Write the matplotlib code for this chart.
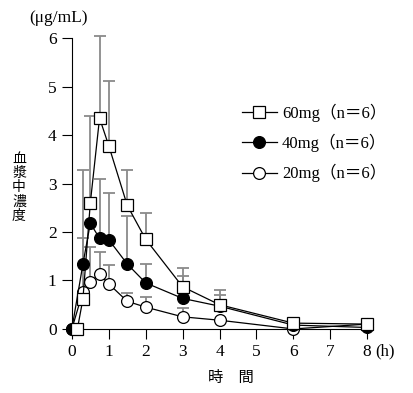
import matplotlib.pyplot as plt

# time (h) and mean concentration (ug/mL), upper SD
t_60 = [0.15, 0.3, 0.5, 0.75, 1.0, 1.5, 2.0, 3.0, 4.0, 6.0, 8.0]
c_60 = [0.0, 0.62, 2.60, 4.35, 3.78, 2.55, 1.85, 0.87, 0.50, 0.12, 0.10]
sd_60 = [0.0, 0.0, 1.80, 1.70, 1.34, 0.73, 0.55, 0.39, 0.30, 0.0, 0.0]

t_40 = [0.0, 0.3, 0.5, 0.75, 1.0, 1.5, 2.0, 3.0, 4.0, 6.0, 8.0]
c_40 = [0.0, 1.34, 2.18, 1.87, 1.84, 1.34, 0.95, 0.63, 0.47, 0.08, 0.03]
sd_40 = [0.0, 1.93, 0.0, 1.22, 0.97, 0.99, 0.39, 0.47, 0.23, 0.0, 0.0]

t_20 = [0.0, 0.3, 0.5, 0.75, 1.0, 1.5, 2.0, 3.0, 4.0, 6.0, 8.0]
c_20 = [0.0, 0.77, 0.97, 1.13, 0.93, 0.57, 0.45, 0.25, 0.18, 0.0, 0.10]
sd_20 = [0.0, 1.11, 0.73, 0.46, 0.39, 0.17, 0.20, 0.19, 0.0, 0.0, 0.0]

labels = ['60mg（n＝6）', '40mg（n＝6）', '20mg（n＝6）']
xticks = [0, 1, 2, 3, 4, 5, 6, 7, 8]
yticks = [0, 1, 2, 3, 4, 5, 6]
ylabel_chars = ['血', '漿', '中', '濃', '度']

plt.rcParams['font.family'] = ['Liberation Serif', 'Noto Sans CJK JP']

fig = plt.figure(figsize=(4.13, 3.93), dpi=100)
ax = fig.add_axes([0.174, 0.163, 0.715, 0.74])

# error bars (upper only, grey)
for t, c, sd in [(t_20, c_20, sd_20), (t_40, c_40, sd_40), (t_60, c_60, sd_60)]:
    lower = [0] * len(sd)
    ax.errorbar(t, c, yerr=[lower, sd], fmt='none', ecolor='#8a8a8a',
                elinewidth=1.3, capsize=4, capthick=1.3, zorder=1, clip_on=False)

l20, = ax.plot(t_20, c_20, '-o', color='black', lw=0.9, ms=8.5, mfc='white',
               mec='black', mew=0.9, zorder=3, clip_on=False)
l40, = ax.plot(t_40, c_40, '-o', color='black', lw=0.9, ms=8.5, mfc='black',
               mec='black', mew=0.9, zorder=4, clip_on=False)
l60, = ax.plot(t_60, c_60, '-s', color='black', lw=0.9, ms=8, mfc='white',
               mec='black', mew=0.9, zorder=5, clip_on=False)

ax.set_xlim(0, 8)
ax.set_ylim(0, 6)
ax.set_xticks(xticks)
ax.set_yticks(yticks)
ax.spines['top'].set_visible(False)
ax.spines['right'].set_visible(False)
ax.tick_params(direction='out', length=7, width=0.8, labelsize=12.5, pad=4)

ax.text(8.22, -0.3, '(h)', ha='left', va='top', fontsize=12)
fig.text(0.07, 0.955, '(μg/mL)', ha='left', va='center', fontsize=12.5)
for i, ch in enumerate(ylabel_chars):
    fig.text(0.046, 0.595 - i * 0.036, ch, ha='center', va='center',
             fontsize=10, family='Noto Sans CJK JP')
fig.text(0.558, 0.04, '時　間', ha='center', va='center', fontsize=11,
         family='Noto Sans CJK JP')

ax.legend([l60, l40, l20], labels, loc='upper left', bbox_to_anchor=(0.576, 0.775),
          frameon=False, handlelength=2.1, handletextpad=0.3, labelspacing=0.72,
          borderpad=0, borderaxespad=0, fontsize=12)

plt.savefig('out.png', dpi=100)
plt.close(fig)
